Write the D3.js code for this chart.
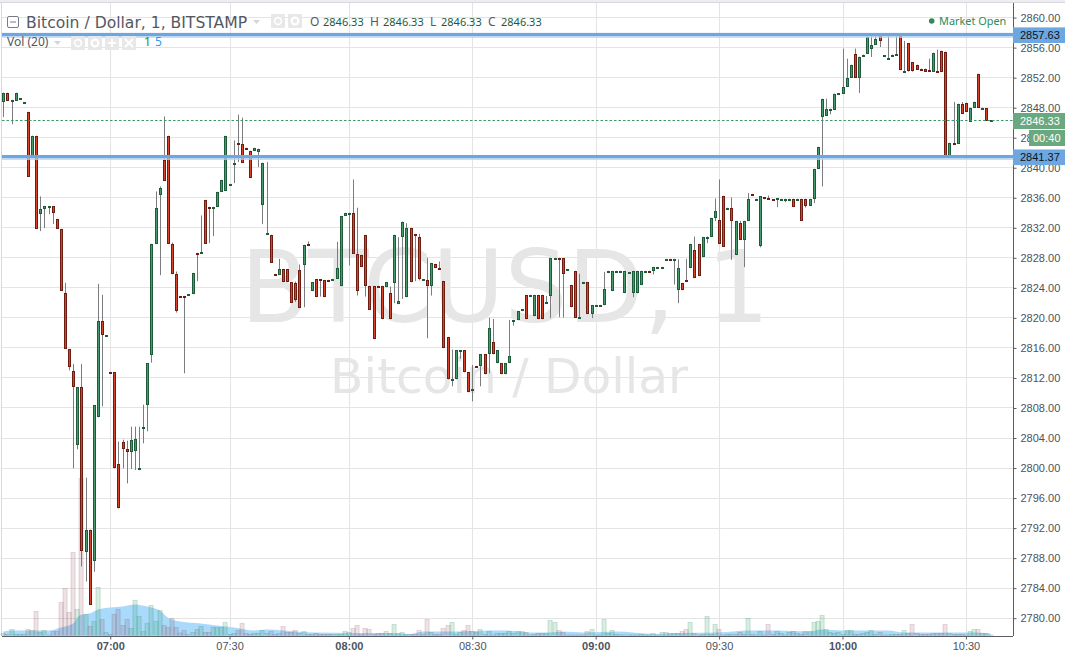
<!DOCTYPE html>
<html><head><meta charset="utf-8">
<style>html,body{margin:0;padding:0;background:#fff;overflow:hidden}svg{display:block}</style>
<script src="https://cdn.jsdelivr.net/npm/d3@7"></script></head><body>
<svg id="c" width="1065" height="653"></svg>
<script>
const opens=[2848.8,2850,2849,2848.9,2849.2,2848.7,2847.47,2841.42,2844.27,2833.87,
2834.53,2834.53,2834.84,2833.2,2831.87,2823.33,2815.87,2812.93,2803.02,2810.8,
2788.89,2791.8,2787.56,2806.76,2819.6,2817.64,2812.8,2812.8,2800.53,2803.47,
2802.53,2802.09,2802.22,2799.73,2805.46,2808.4,2815.02,2829.87,2836.44,2841.07,
2844.27,2829.87,2825.87,2822.93,2822.93,2823.11,2823.16,2828.67,2828.62,2835.73,
2834.8,2834.75,2834.76,2836.76,2836.89,2837.82,2840.36,2843.33,2843.15,2842.67,
2842.27,2842.22,2842.09,2835.02,2831.2,2831.07,2825.87,2825.73,2826.53,2826.53,
2824.76,2824.67,2826.4,2827.02,2829.87,2823.56,2825.16,2825.16,2825.07,2825.07,
2825.02,2825.2,2824.22,2833.56,2833.95,2834,2828.53,2828.4,2831.07,2824.27,
2824.27,2824.27,2824.27,2824.09,2823.33,2824.62,2821.82,2830.76,2822.76,2832,
2831.2,2830.8,2825.15,2825.07,2824.22,2827.2,2826.67,2824.93,2817.47,2811.82,
2811.82,2815.68,2815.73,2812.8,2810.31,2813.6,2813.56,2815.2,2815.2,2816.8,
2813.96,2814,2812.49,2813.96,2819.68,2819.69,2820.89,2823.07,2823.02,2820.22,
2823.07,2823.07,2821.96,2822.93,2827.95,2828,2827.96,2826.48,2824.4,2826.27,
2820.08,2824.75,2824.8,2820.49,2821.68,2821.68,2821.69,2825.96,2823.56,2826.22,
2826.22,2823.29,2826.08,2823.29,2823.29,2824.36,2826.22,2826.27,2826.22,2826.75,
2826.75,2827.82,2827.87,2827.64,2823.69,2824.67,2825.11,2826.62,2829.07,2829.87,
2828.09,2830.79,2830.76,2833.29,2833.07,2836.27,2834.62,2834.67,2828.36,2832.67,
2830.4,2832.93,2836.53,2835.82,2829.51,2836.05,2836,2835.83,2835.73,2835.82,
2835.82,2835.82,2835.87,2835.82,2835.87,2835.87,2834.93,2835.82,2839.87,2846.76,
2846.93,2847.73,2847.73,2849.86,2849.82,2850.76,2851.96,2855.2,2851.96,2854.76,
2855.16,2855.87,2856.4,2857.51,2854.93,2854.62,2855.02,2855.06,2857.51,2852.79,
2856.58,2854.04,2853.73,2853.2,2853.2,2853.07,2852.84,2852.89,2855.6,2855.47,
2841.56,2843.33,2843.16,2848.53,2848.67,2846.13,2848,2852.53,2847.95,2847.96,2846.2];
const closes=[2850,2848.9,2849.05,2850,2849.25,2848.75,2838.76,2844.27,2831.87,2834.53,
2834.93,2834.84,2833.87,2831.87,2823.6,2815.87,2813.42,2810.76,2810.8,2788.89,
2791.8,2781.87,2808.4,2819.6,2817.69,2817.69,2812.75,2799.96,2794.62,2802.49,
2802.09,2803.73,2803.87,2800,2805.51,2814,2829.87,2834.67,2837.33,2838.22,
2829.87,2825.82,2820.89,2822.88,2822.62,2823.16,2826,2828.62,2828.84,2829.87,
2834.75,2834.8,2836.8,2838.4,2844.27,2837.87,2840.67,2843.15,2840.62,2842.62,
2838.62,2842.67,2842.53,2840.67,2831.33,2827.33,2825.69,2826.53,2824.76,2824.76,
2822,2822.36,2821.29,2829.73,2829.56,2824.76,2822.76,2825.02,2822.76,2825.02,
2825.2,2826.67,2833.6,2834,2834,2828.53,2823.6,2826.76,2824.27,2821.07,
2817.16,2824.22,2819.82,2824.8,2819.82,2831.07,2822.27,2832.71,2832,2824.76,
2830.89,2825.16,2825.2,2824.22,2827.33,2826.62,2826.62,2815.96,2811.82,2811.87,
2815.73,2815.73,2812.76,2810.09,2810.53,2813.55,2815.2,2812.49,2818.67,2815.16,
2815.73,2812.49,2814,2814.93,2819.73,2820.93,2821.2,2819.82,2823.07,2823.07,
2819.82,2819.82,2822.18,2828,2828,2827.95,2825.87,2826.53,2821.42,2820,
2820.13,2824.8,2820.49,2821.73,2821.73,2821.73,2823.87,2826.27,2826.27,2826.27,
2826.27,2826.27,2826.13,2826.27,2826.27,2826.27,2826.27,2826.22,2826.8,2826.8,
2826.8,2827.87,2827.64,2827.87,2826.67,2823.69,2824.89,2829.87,2825.29,2825.56,
2830.8,2830.84,2833.33,2834.27,2829.82,2829.47,2834.67,2832.93,2832.93,2830.4,
2832.93,2835.87,2836.22,2835.87,2836.22,2836,2835.82,2835.78,2835.91,2835.87,
2835.87,2835.87,2834.76,2835.87,2832.93,2834.89,2835.87,2839.87,2842.8,2849.2,
2847.87,2847.87,2849.87,2849.91,2850.8,2852,2853.73,2851.96,2854.8,2855.07,
2857.47,2856.4,2857.2,2856.8,2854.98,2854.67,2855.07,2855.11,2853.02,2852.84,
2852.8,2852.8,2853.02,2853.02,2852.76,2852.89,2855.33,2852.84,2852.76,2841.56,
2843.33,2843.2,2848.53,2847.16,2847.42,2848,2848.8,2848,2848,2846.27,2846.33];
const highs=[2850,2850,2849.05,2850,2849.25,2848.75,2847.47,2844.27,2844.27,2836.18,
2834.93,2834.84,2834.84,2833.2,2831.87,2824.67,2815.87,2813.87,2810.8,2813.87,
2798.71,2791.8,2808.4,2824.53,2823.07,2817.69,2812.8,2812.8,2803.51,2803.78,
2803.64,2805.51,2805.51,2805.51,2808.44,2814,2829.87,2836.84,2837.51,2846.84,
2844.27,2830.04,2826.18,2822.93,2822.93,2823.16,2826,2828.67,2833.64,2835.73,
2834.8,2834.8,2836.8,2838.4,2844.27,2837.87,2843.64,2847.07,2846.67,2842.67,
2842.27,2842.67,2842.53,2840.67,2840.76,2831.07,2825.87,2827.87,2826.53,2826.53,
2824.76,2824.84,2827.11,2829.73,2830.18,2824.76,2825.16,2825.16,2825.07,2825.07,
2825.2,2830.13,2833.6,2834,2834,2838.44,2834.67,2828.4,2831.07,2824.27,
2824.27,2824.27,2824.27,2824.8,2824.18,2831.07,2830.76,2832.84,2832.62,2832,
2831.2,2831.2,2825.2,2828,2827.33,2827.2,2827.51,2824.93,2817.47,2815.78,
2815.73,2815.73,2815.73,2812.8,2813.73,2813.6,2815.2,2815.2,2820,2819.87,
2815.73,2814,2814,2819.73,2819.73,2820.93,2821.2,2823.07,2823.07,2823.07,
2823.07,2823.07,2822.93,2828,2828,2828,2827.96,2826.53,2824.4,2826.27,
2825.87,2824.8,2824.8,2821.73,2821.73,2821.73,2826.13,2826.27,2826.27,2826.27,
2826.27,2826.27,2826.13,2826.27,2826.27,2826.27,2826.27,2826.27,2826.8,2826.8,
2826.8,2827.87,2827.87,2827.87,2827.8,2824.67,2827.87,2829.87,2830.84,2829.87,
2830.8,2830.84,2833.33,2835.91,2838.44,2836.27,2834.67,2836.04,2832.93,2832.93,
2832.93,2836.62,2836.53,2835.87,2836.22,2836.05,2836.3,2835.83,2835.91,2835.87,
2835.87,2835.87,2835.87,2835.87,2835.87,2835.87,2835.87,2839.87,2842.8,2849.2,
2849.2,2847.87,2849.87,2849.91,2855.87,2854.53,2853.73,2855.87,2854.8,2855.07,
2857.47,2857.69,2857.63,2857.51,2854.98,2857.64,2855.07,2857.64,2857.51,2856.9,
2856.58,2854.04,2853.73,2853.2,2853.2,2854.53,2855.33,2855.73,2855.6,2855.47,
2843.33,2848.76,2848.53,2848.76,2848.67,2848,2848.8,2852.53,2848,2847.96,2846.33];
const lows=[2846.76,2848.9,2845.8,2848.9,2849.2,2848.7,2838.76,2841.42,2831.87,2831.56,
2831.96,2833.82,2832.49,2831.87,2823.6,2815.87,2813.02,2799.96,2802.49,2786.89,
2784.89,2781.87,2786.2,2806.76,2808.22,2817.6,2812.75,2799.96,2794.62,2799.96,
2797.96,2799.87,2799.73,2799.73,2803.29,2804.89,2814.04,2829.87,2825.69,2838.22,
2829.87,2825.82,2820.71,2822.88,2812.62,2823.11,2823.16,2824.89,2828.62,2829.87,
2829.96,2830.89,2834.76,2836.76,2836.89,2837.82,2837.96,2840.76,2840.62,2842.62,
2838.62,2842.22,2840.09,2832.49,2831.2,2827.33,2825.69,2825.73,2824.76,2824.76,
2822,2822.13,2821.29,2821.42,2829.56,2823.56,2822.76,2822.84,2822.76,2825.02,
2825.02,2825.2,2824.22,2833.56,2826.98,2828.53,2822.98,2826.76,2822.84,2821.07,
2817.16,2824.22,2819.82,2824.09,2819.82,2821.96,2821.82,2822.53,2822.76,2824.76,
2824.89,2825,2825.15,2817.29,2822.98,2826.62,2826.62,2815.96,2811.82,2810.89,
2811.82,2814.53,2812.76,2810.09,2808.89,2813.55,2810.89,2812.49,2812.62,2815.16,
2813.96,2812.49,2812.49,2813.96,2818.98,2819.69,2820.89,2819.82,2823.02,2820.22,
2819.82,2819.82,2821.96,2819.96,2827.95,2820.09,2820.04,2826.48,2821.42,2820,
2820.08,2824.75,2820.49,2819.96,2821.68,2821.68,2821.69,2825.96,2823.56,2826.22,
2826.22,2823.29,2826.08,2822.76,2823.29,2824.36,2826.22,2826.22,2825.78,2826.75,
2826.75,2827.82,2827.64,2824.44,2821.96,2823.69,2824.89,2826.62,2825.29,2825.56,
2828.09,2829.96,2830.76,2832.89,2829.82,2829.47,2834.62,2827.73,2828.36,2830.4,
2826.76,2832.93,2836.22,2835.82,2829.4,2835.8,2835.82,2835.78,2834.76,2835.82,
2835.42,2835.82,2834.76,2835.82,2832.93,2834.7,2834.93,2835.29,2839.87,2837.51,
2846.93,2847.11,2847.73,2849.86,2849.82,2850.76,2851.96,2851.96,2849.96,2854.76,
2855.16,2854.76,2856.4,2856.09,2854.93,2854.62,2855.02,2855.06,2853.02,2852.79,
2852.8,2852.8,2853.02,2853.02,2852.76,2852.89,2852.84,2852.84,2852.76,2841.56,
2841.56,2843.2,2843.16,2847.16,2847.42,2846.13,2848,2848,2847.95,2846.27,2846.2];
const volumes=[2,1,6,1,1,1,6,5,24,3,
5,0.5,4,4,33,47,23,83,26,157,
21,9,14,48,16,3,1,21,26,10,
16,7,35,19,4,12,30,14,25,10,
8,17,8,2.5,5,1,3,6,9,3,
3,8,8,8,13,1,2,5,12,2,
1,2,2,5,2,4,1,2,9,3,
3,5,2,4,1,1,2,1,1,1,
1,1,1,4,3,7,10,1,7,6,
1,2,2,4,2,11,2,3,1,1,
1,5,1,16,3,1,1,7,10,13,
1,3,5,10,4,3,6,1,4,0.5,
2,2,2,4,2,4,4,3,0.5,1,
2,2,2,15,13,5,3,0.5,0.5,0.5,
0.5,0.5,4,6,0.5,0.5,16,2,5,1,
0.5,0.5,0.5,0.5,0.5,1,0.5,0.5,2,0.5,
3,3,2,2,2,4,6,13,2,0.5,
1,19,1,11,6,0.5,1,1,1,3,
1,17,1,0.5,4,0.5,11,1,4,2,
0.5,3,4,2,1,4,4,13,14,20,
6,3,2,3,1,5,5,1,1,2,
3,5,1,3,0.5,0.5,1,1,1,5,
2,11,2,1,1,1,2,2,2,11,
2,1,1,1,0.5,4,6,6,2,2,0.5];
const maBars=[0,2,5,8,11,14,17,18,19,21,23,26,29,32,35,38,40,43,48,52,56,61,64,68,76,85,94,99,102,110,118,122,128,133,136,141,149,153,159,164,174,181,188,196,199,204,215,219,224,236,240];
const maValues=[4,5,5,5,5,8,12,18,21,22,26,28,29,31,29,25,18,14,12,10,8,5,6,5,3,2.5,2.5,1.5,4,4,5,5,3,3,4,3,4,3,1.5,2.5,3,5,5,4,6,5,5,3,3,3,2];
const tickBars=[26,55,84,114,144,174,204,234];
const tickLabels=["07:00","07:30","08:00","08:30","09:00","09:30","10:00","10:30"];
const boldTicks=["07:00","08:00","09:00","10:00"];
const priceTicks=d3.range(2780,2861,4);
const supportResistance=[2857.63,2841.37];
const lastPrice=2846.33;
const countdown="00:40";

const svg=d3.select("#c");
const x=d3.scaleLinear().domain([0,240]).range([3.3,990.6]);
const y=d3.scaleLinear().domain([2780,2860]).range([618.2,17.6]);
const vol=d3.scaleLinear().domain([0,157]).range([635.5,478.5]);
const right=1013, bottom=636;
const px=v=>Math.round(v)+0.5;
const LIB="'Liberation Sans',Arial,sans-serif", HEAD="'DejaVu Sans',sans-serif", NOTO="'Noto Sans',sans-serif";
const up=i=>closes[i]>=opens[i];

// frame
svg.append("rect").attr("x",0).attr("y",0).attr("width",1065).attr("height",2).attr("fill","#eeeef1");
svg.append("rect").attr("x",0).attr("y",2).attr("width",1065).attr("height",1).attr("fill","#d6d8de");
svg.append("rect").attr("x",1).attr("y",2).attr("width",1).attr("height",634).attr("fill","#d6d8de");

// grid
const grid=svg.append("g").attr("stroke","#e4e4e4").attr("stroke-width",1.1);
grid.selectAll(".h").data(priceTicks).join("line").attr("x1",2).attr("x2",right)
  .attr("y1",d=>px(y(d)-0.5)).attr("y2",d=>px(y(d)-0.5));
grid.selectAll(".v").data(tickBars).join("line").attr("y1",3).attr("y2",bottom)
  .attr("x1",d=>px(x(d))).attr("x2",d=>px(x(d)));

// watermark
svg.append("text").text("BTCUSD, 1").attr("x",505).attr("y",322).attr("text-anchor","middle")
  .attr("font-family",HEAD).attr("font-size",99).attr("fill","#e6e6e6");
svg.append("text").text("Bitcoin / Dollar").attr("x",509).attr("y",392.5).attr("text-anchor","middle")
  .attr("font-family",HEAD).attr("font-size",48.6).attr("fill","#e6e6e6");

// volume MA area
svg.append("path").datum(maBars.map((b,k)=>[b,maValues[k]]))
  .attr("fill","#a9d9fb").attr("d",d3.area().x(d=>x(d[0])).y0(vol(0)).y1(d=>vol(d[1])).curve(d3.curveMonotoneX));

// volume bars
svg.append("g").selectAll("rect").data(volumes).join("rect")
  .attr("x",(d,i)=>Math.round(x(i))-2).attr("width",4.1)
  .attr("y",d=>vol(d)).attr("height",d=>vol(0)-vol(d))
  .attr("fill",(d,i)=>up(i)?"rgba(60,170,110,0.2)":"rgba(150,80,90,0.16)")
  .attr("stroke",(d,i)=>up(i)?"rgba(40,130,80,0.28)":"rgba(120,60,70,0.24)").attr("stroke-width",0.7);

// candles
const bars=svg.append("g");
bars.append("g").attr("stroke","#7a7c80").attr("stroke-width",1).selectAll("line").data(opens).join("line")
  .attr("x1",(d,i)=>px(x(i))).attr("x2",(d,i)=>px(x(i)))
  .attr("y1",(d,i)=>y(highs[i])).attr("y2",(d,i)=>y(lows[i]));
bars.append("g").selectAll("rect").data(opens).join("rect")
  .attr("shape-rendering","crispEdges")
  .attr("x",(d,i)=>Math.round(x(i))-0.5).attr("width",2)
  .attr("y",(d,i)=>Math.round(y(Math.max(opens[i],closes[i])))+0.5)
  .attr("height",(d,i)=>Math.max(0.5,Math.round(Math.abs(y(opens[i])-y(closes[i])))-1))
  .attr("fill",(d,i)=>up(i)?"#449a6b":"#d8432c")
  .attr("stroke",(d,i)=>up(i)?"#1d5c3b":"#6f1b10").attr("stroke-width",1);

// last-price dashed line
svg.append("line").attr("x1",2).attr("x2",right).attr("y1",120.5).attr("y2",120.5)
  .attr("stroke","#3d9a68").attr("stroke-width",1).attr("stroke-dasharray","2.5,2");

// axes
const yAxis=d3.axisRight(y).tickValues(priceTicks).tickFormat(d3.format(".2f")).tickSize(3).tickPadding(4);
const gy=svg.append("g").attr("transform",`translate(${right+0.5},0)`).call(yAxis);
gy.select(".domain").attr("d",`M0,3V${bottom}`).attr("stroke","#5a5d63");
gy.selectAll(".tick line").attr("stroke","#5a5d63");
gy.selectAll("text").attr("font-family",LIB).attr("font-size",11).attr("fill","#4c525e");
const xAxis=d3.axisBottom(x).tickValues(tickBars).tickFormat((d,k)=>tickLabels[k]).tickSize(3).tickPadding(3);
const gx=svg.append("g").attr("transform",`translate(0,${bottom+0.5})`).call(xAxis);
gx.select(".domain").attr("d",`M2,0H${right}`).attr("stroke","#5a5d63");
gx.selectAll(".tick line").attr("stroke","#5a5d63");
gx.selectAll("text").attr("font-family",LIB).attr("font-size",11).attr("fill","#4c525e")
  .attr("font-weight",(d,k)=>boldTicks.includes(tickLabels[k])?"bold":"normal");

// horizontal support/resistance lines
supportResistance.forEach(v=>{
  const yy=y(v)-0.3;
  svg.append("rect").attr("x",2).attr("width",right-2).attr("y",yy-2.2).attr("height",3.4).attr("fill","#6ea7e0");
  svg.append("rect").attr("x",2).attr("width",right-2).attr("y",yy+1.2).attr("height",1.4).attr("fill","#b3d2f1");
  svg.append("rect").attr("x",right).attr("width",52).attr("y",yy-7.7).attr("height",15.6).attr("fill","#6ea7e0");
  svg.append("text").text(v.toFixed(2)).attr("x",1020).attr("y",yy+4).attr("font-family",LIB).attr("font-size",11).attr("fill","#0c1420");
});

// price + countdown labels
svg.append("rect").attr("x",right).attr("y",113).attr("width",52).attr("height",16).attr("fill","#6aa880");
svg.append("text").text(lastPrice.toFixed(2)).attr("x",1020).attr("y",125).attr("font-family",LIB).attr("font-size",11).attr("fill","#fff");
svg.append("rect").attr("x",1029).attr("y",130).attr("width",36).attr("height",16).attr("fill","#6aa880");
svg.append("text").text(countdown).attr("x",1033).attr("y",142).attr("font-family",LIB).attr("font-size",11).attr("fill","#fff");

// header
const textC="#535862";
svg.append("rect").attr("x",7.5).attr("y",16.5).attr("width",11).attr("height",11).attr("rx",1.5).attr("fill","#fff").attr("stroke","#777b83");
svg.append("line").attr("x1",10).attr("x2",16).attr("y1",22).attr("y2",22).attr("stroke","#777b83");
svg.append("text").text("Bitcoin / Dollar, 1, BITSTAMP").attr("x",26).attr("y",27.5).attr("font-family",HEAD).attr("font-size",15.6).attr("fill",textC);
svg.append("path").attr("d","M253,20h7l-3.5,4z").attr("fill","#d5d6d9");
[271,288].forEach(a=>svg.append("rect").attr("x",a).attr("y",14).attr("width",14).attr("height",14).attr("rx",1).attr("fill","#e8e8e8"));
svg.append("circle").attr("cx",278).attr("cy",21).attr("r",3.4).attr("fill","none").attr("stroke","#fff").attr("stroke-width",1.6);
svg.append("circle").attr("cx",295).attr("cy",21).attr("r",3.4).attr("fill","none").attr("stroke","#fff").attr("stroke-width",2.2);
const ohlcLab=["O","H","L","C"], ohlcLabX=[310,370,430,488], ohlcValX=[323,383,441,501];
ohlcLab.forEach((l,k)=>{
  svg.append("text").text(l).attr("x",ohlcLabX[k]).attr("y",26).attr("font-family",NOTO).attr("font-size",12).attr("fill",textC);
  svg.append("text").text(lastPrice.toFixed(2)).attr("x",ohlcValX[k]).attr("y",26).attr("font-family",NOTO).attr("font-size",11).attr("fill","#1d5c3b");
});
svg.append("circle").attr("cx",931.7).attr("cy",21).attr("r",2.8).attr("fill","#2e8b57");
svg.append("text").text("Market Open").attr("x",939).attr("y",25).attr("font-family",NOTO).attr("font-size",10.9).attr("fill","#2e8b57");

// volume legend
svg.append("text").text("Vol (20)").attr("x",7).attr("y",46).attr("font-family",NOTO).attr("font-size",12).attr("fill",textC);
svg.append("path").attr("d","M54,41h7l-3.5,4z").attr("fill","#d5d6d9");
[71,88,105,122].forEach(a=>svg.append("rect").attr("x",a).attr("y",36).attr("width",14).attr("height",14).attr("rx",1).attr("fill","#e8e8e8"));
svg.append("circle").attr("cx",78).attr("cy",43).attr("r",3.4).attr("fill","none").attr("stroke","#fff").attr("stroke-width",1.6);
svg.append("circle").attr("cx",95).attr("cy",43).attr("r",3.4).attr("fill","none").attr("stroke","#fff").attr("stroke-width",2.2);
svg.append("path").attr("d","M108,43h8M112,39v8M125,39l8,8M133,39l-8,8").attr("stroke","#fff").attr("stroke-width",1.8);
svg.append("text").text("1").attr("x",144).attr("y",46).attr("font-family",NOTO).attr("font-size",12).attr("fill","#1f8a3f");
svg.append("text").text("5").attr("x",155).attr("y",46).attr("font-family",NOTO).attr("font-size",12).attr("fill","#1e9bff");
</script></body></html>
